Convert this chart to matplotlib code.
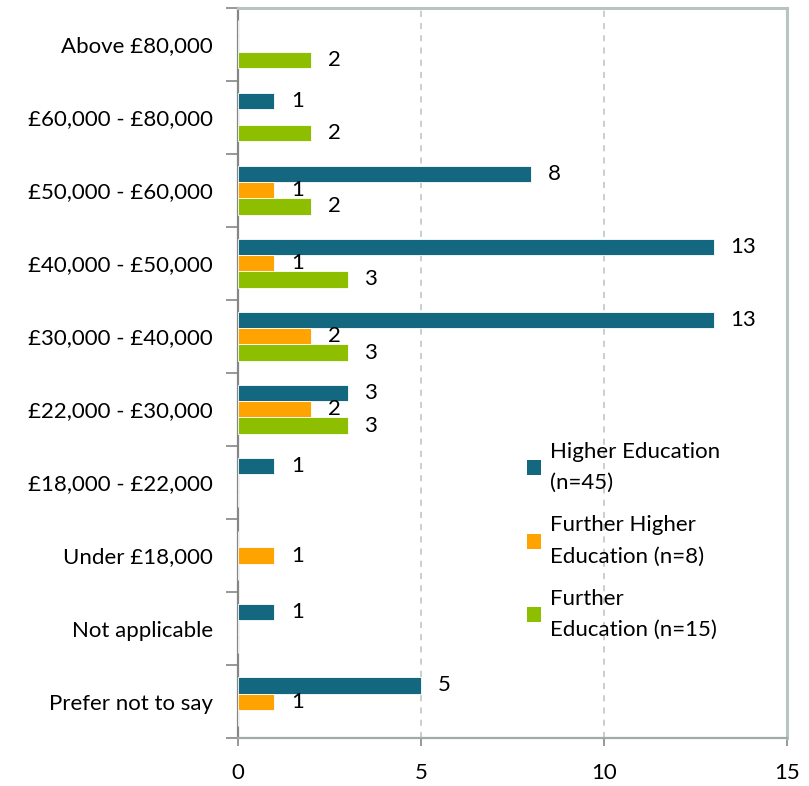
import numpy as np
import matplotlib.pyplot as plt
from matplotlib.patches import Patch

plt.rcParams['font.family'] = ['Lato', 'DejaVu Sans']

# categories, top to bottom as shown
categories = ['Above £80,000', '£60,000 - £80,000', '£50,000 - £60,000',
              '£40,000 - £50,000', '£30,000 - £40,000', '£22,000 - £30,000',
              '£18,000 - £22,000', 'Under £18,000', 'Not applicable',
              'Prefer not to say']
higher_ed = [0, 1, 8, 13, 13, 3, 1, 0, 1, 5]
further_higher_ed = [0, 0, 1, 1, 2, 2, 0, 1, 0, 1]
further_ed = [2, 2, 2, 3, 3, 3, 0, 0, 0, 0]
series_names = ['Higher Education\n(n=45)', 'Further Higher\nEducation (n=8)',
                'Further\nEducation (n=15)']
colors = ['#13677F', '#FFA300', '#8DBF00']

fig = plt.figure(figsize=(8.09, 7.86), dpi=100)
ax = fig.add_axes([0.294, 0.061, 0.679, 0.929])

n = len(categories)
y = np.arange(n)[::-1]  # first category at top
h = 0.22
series = [higher_ed, further_higher_ed, further_ed]
for i, (vals, c) in enumerate(zip(series, colors)):
    ypos = y + (1 - i) * h
    ax.barh(ypos, vals, height=h, color=c, edgecolor='white', linewidth=0.6, zorder=3)
    for yy, v in zip(ypos, vals):
        if v > 0:
            ax.annotate(str(v), (v, yy), xytext=(12, 0), textcoords='offset points',
                        ha='left', va='center', fontsize=16, color='black', zorder=4)

ax.set_xlim(0, 15)
ax.set_ylim(-0.5, n - 0.5)
ax.set_xticks([0, 5, 10, 15])
ax.tick_params(axis='x', labelsize=16, length=6, width=1.2, color='#868686', pad=12)

ax.set_yticks(y)
ax.set_yticklabels(categories, fontsize=16)
ax.set_yticks(np.arange(-0.5, n, 1), minor=True)
ax.tick_params(axis='y', which='major', length=0, pad=18)
ax.tick_params(axis='y', which='minor', length=9, width=1.2, color='#868686')

ax.grid(axis='x', color='#B9C3C2', linestyle=(0, (4, 4)), linewidth=1.1, zorder=0)

for s in ['top', 'right']:
    ax.spines[s].set_color('#B7C4C2')
    ax.spines[s].set_linewidth(2.2)
ax.spines['left'].set_color('#868686')
ax.spines['left'].set_linewidth(1.6)
ax.spines['bottom'].set_color('#A0AAAA')
ax.spines['bottom'].set_linewidth(1.6)

handles = [Patch(facecolor=c, edgecolor='none') for c in colors]
leg = ax.legend(handles, series_names, loc='center left', bbox_to_anchor=(0.49, 0.27),
                frameon=False, fontsize=16, handlelength=0.65, handleheight=0.65,
                handletextpad=0.4, labelspacing=1.0)
for t in leg.get_texts():
    t.set_linespacing(1.7)

fig.savefig('out.png', dpi=100)
